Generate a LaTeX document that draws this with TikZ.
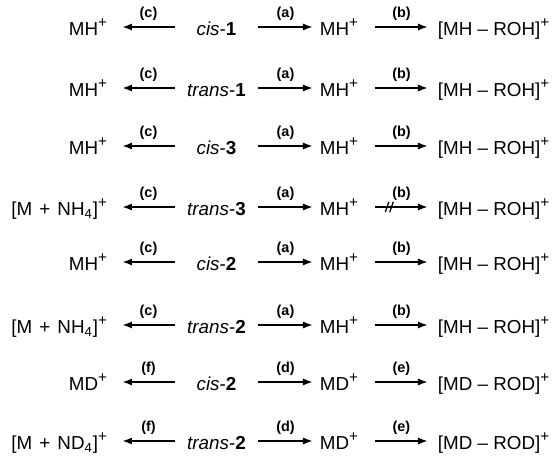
\documentclass[tikz,border=0pt]{standalone}
\usepackage{fontspec}
\setmainfont{Liberation Sans}
\usepackage{tikz}
\usetikzlibrary{arrows.meta, decorations.markings, positioning, calc}

\newcommand{\charge}{\raisebox{4.2pt}{\fontsize{7.6}{7.6}\selectfont +}}
\newcommand{\adduct}[1]{[M\hspace{0.38em}+\hspace{0.38em}#1\textsubscript{4}]\charge}

\tikzset{
    txt/.style={text height=8.4pt, text depth=0pt, inner ysep=0pt, outer sep=0pt},
    lft/.style={txt, anchor=east, inner xsep=7.5pt},
    cmp/.style={txt, anchor=center, inner xsep=0pt, minimum width=41.5pt},
    ion/.style={txt, anchor=west, inner xsep=3.5pt, text width=24pt, align=left},
    prd/.style={txt, anchor=west, inner xsep=5pt},
    lab/.style={above=2.6pt, inner sep=0pt, font=\fontsize{7.2}{8}\selectfont\bfseries},
    rxn/.style={line width=0.95pt, -{Latex[length=5pt, width=3.6pt]}},
    blocked/.style={postaction={decorate}, decoration={markings,
        mark=at position 0.3 with {\draw[-, line width=0.65pt] (-2.8pt,-2.6pt) -- (-1pt,2.6pt) (-0.6pt,-2.6pt) -- (1.2pt,2.6pt);}}}
}

\begin{document}
\begin{tikzpicture}[x=0.5pt, y=-0.5pt, font=\fontsize{9.4}{11}\selectfont]
        \useasboundingbox (0,0) rectangle (554,456);

        % cis-1
        \node[lft] (l1) at (122,27) {MH\charge};
        \node[cmp] (c1) at (216.5,27) {\textit{cis}-\textbf{1}};
        \node[ion] (m1) at (313,27) {MH\charge};
        \node[prd] (p1) at (428,27) {[MH -- ROH]\charge};
        \draw[rxn] (c1) -- node[lab] {(c)} (l1);
        \draw[rxn] (c1) -- node[lab] {(a)} (m1);
        \draw[rxn] (m1) -- node[lab] {(b)} (p1);

        % trans-1
        \node[lft] (l2) at (122,88) {MH\charge};
        \node[cmp] (c2) at (216.5,88) {\textit{trans}-\textbf{1}};
        \node[ion] (m2) at (313,88) {MH\charge};
        \node[prd] (p2) at (428,88) {[MH -- ROH]\charge};
        \draw[rxn] (c2) -- node[lab] {(c)} (l2);
        \draw[rxn] (c2) -- node[lab] {(a)} (m2);
        \draw[rxn] (m2) -- node[lab] {(b)} (p2);

        % cis-3
        \node[lft] (l3) at (122,146) {MH\charge};
        \node[cmp] (c3) at (216.5,146) {\textit{cis}-\textbf{3}};
        \node[ion] (m3) at (313,146) {MH\charge};
        \node[prd] (p3) at (428,146) {[MH -- ROH]\charge};
        \draw[rxn] (c3) -- node[lab] {(c)} (l3);
        \draw[rxn] (c3) -- node[lab] {(a)} (m3);
        \draw[rxn] (m3) -- node[lab] {(b)} (p3);

        % trans-3 (no loss of ROH)
        \node[lft] (l4) at (122,207) {\adduct{NH}};
        \node[cmp] (c4) at (216.5,207) {\textit{trans}-\textbf{3}};
        \node[ion] (m4) at (313,207) {MH\charge};
        \node[prd] (p4) at (428,207) {[MH -- ROH]\charge};
        \draw[rxn] (c4) -- node[lab] {(c)} (l4);
        \draw[rxn] (c4) -- node[lab] {(a)} (m4);
        \draw[rxn, blocked] (m4) -- node[lab] {(b)} (p4);

        % cis-2
        \node[lft] (l5) at (122,262) {MH\charge};
        \node[cmp] (c5) at (216.5,262) {\textit{cis}-\textbf{2}};
        \node[ion] (m5) at (313,262) {MH\charge};
        \node[prd] (p5) at (428,262) {[MH -- ROH]\charge};
        \draw[rxn] (c5) -- node[lab] {(c)} (l5);
        \draw[rxn] (c5) -- node[lab] {(a)} (m5);
        \draw[rxn] (m5) -- node[lab] {(b)} (p5);

        % trans-2
        \node[lft] (l6) at (122,325) {\adduct{NH}};
        \node[cmp] (c6) at (216.5,325) {\textit{trans}-\textbf{2}};
        \node[ion] (m6) at (313,325) {MH\charge};
        \node[prd] (p6) at (428,325) {[MH -- ROH]\charge};
        \draw[rxn] (c6) -- node[lab] {(c)} (l6);
        \draw[rxn] (c6) -- node[lab] {(a)} (m6);
        \draw[rxn] (m6) -- node[lab] {(b)} (p6);

        % cis-2, deuterated
        \node[lft] (l7) at (122,382) {MD\charge};
        \node[cmp] (c7) at (216.5,382) {\textit{cis}-\textbf{2}};
        \node[ion] (m7) at (313,382) {MD\charge};
        \node[prd] (p7) at (428,382) {[MD -- ROD]\charge};
        \draw[rxn] (c7) -- node[lab] {(f)} (l7);
        \draw[rxn] (c7) -- node[lab] {(d)} (m7);
        \draw[rxn] (m7) -- node[lab] {(e)} (p7);

        % trans-2, deuterated
        \node[lft] (l8) at (122,441) {\adduct{ND}};
        \node[cmp] (c8) at (216.5,441) {\textit{trans}-\textbf{2}};
        \node[ion] (m8) at (313,441) {MD\charge};
        \node[prd] (p8) at (428,441) {[MD -- ROD]\charge};
        \draw[rxn] (c8) -- node[lab] {(f)} (l8);
        \draw[rxn] (c8) -- node[lab] {(d)} (m8);
        \draw[rxn] (m8) -- node[lab] {(e)} (p8);
    \end{tikzpicture}
\end{document}
